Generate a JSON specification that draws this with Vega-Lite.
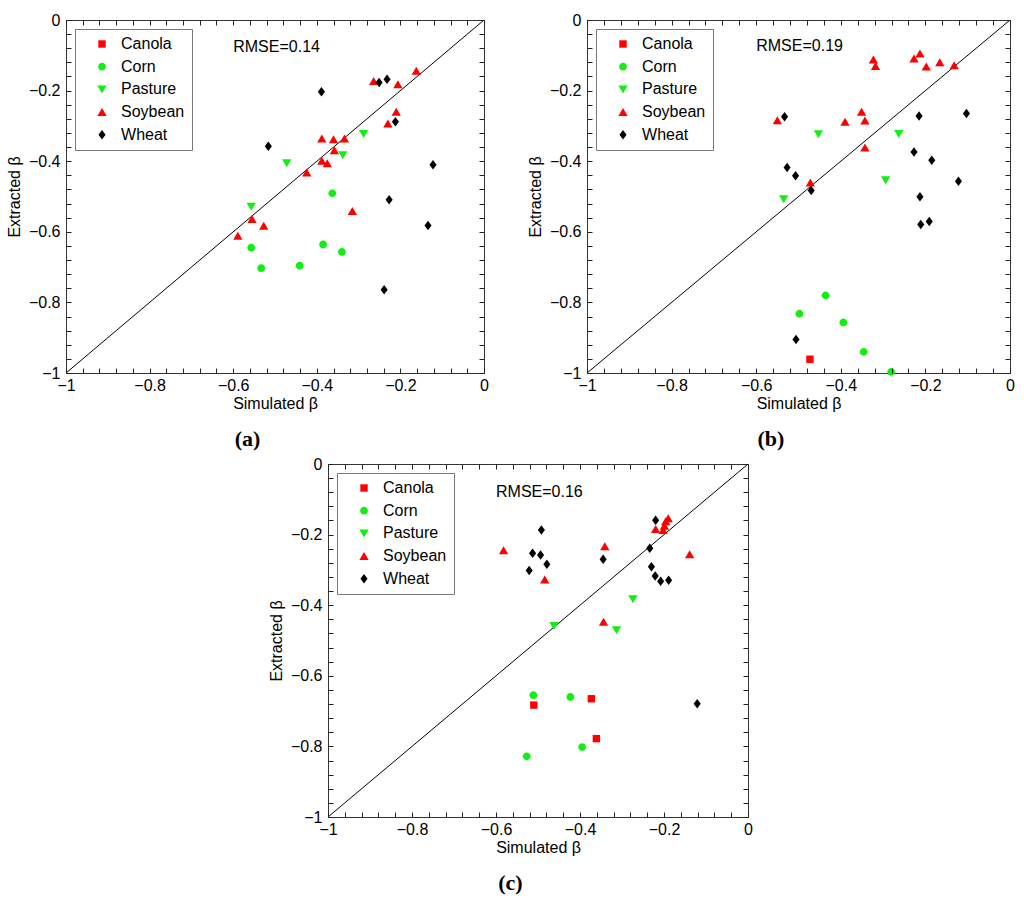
{
  "$schema": "https://vega.github.io/schema/vega-lite/v6.json",
  "padding": {"left": 5, "top": 11, "right": 5, "bottom": 5},
  "background": "white",
  "config": {
    "font": "Liberation Sans",
    "view": {"stroke": "#333", "strokeWidth": 1, "fill": null},
    "axis": {
      "labelFontSize": 16, "titleFontSize": 16, "titleFontWeight": "normal",
      "labelColor": "#000", "titleColor": "#000",
      "domain": false, "grid": false,
      "labelFlush": false, "labelOverlap": false
    },
    "axisX": {"labelPadding": 4, "titlePadding": 2},
    "axisY": {"labelPadding": 6, "titlePadding": 6},
    "legend": {
      "orient": "top-left", "offset": 9, "zindex": 2,
      "strokeColor": "#777", "fillColor": "#fff", "padding": 7,
      "labelFontSize": 16, "labelColor": "#000", "symbolSize": 100,
      "symbolOffset": 12, "labelOffset": 11, "rowPadding": 6.7,
      "symbolStrokeWidth": 0
    },
    "title": {
      "orient": "bottom", "font": "Liberation Serif", "fontSize": 22,
      "fontWeight": "bold", "color": "#000", "anchor": "middle",
      "frame": "bounds", "offset": 18
    }
  },
  "data": {
    "values": [
      {"panel": "a", "crop": "Soybean", "sim": -0.162, "ext": -0.144},
      {"panel": "a", "crop": "Soybean", "sim": -0.264, "ext": -0.173},
      {"panel": "a", "crop": "Soybean", "sim": -0.206, "ext": -0.182},
      {"panel": "a", "crop": "Soybean", "sim": -0.210, "ext": -0.260},
      {"panel": "a", "crop": "Soybean", "sim": -0.230, "ext": -0.293},
      {"panel": "a", "crop": "Soybean", "sim": -0.388, "ext": -0.336},
      {"panel": "a", "crop": "Soybean", "sim": -0.360, "ext": -0.338},
      {"panel": "a", "crop": "Soybean", "sim": -0.334, "ext": -0.336},
      {"panel": "a", "crop": "Soybean", "sim": -0.358, "ext": -0.369},
      {"panel": "a", "crop": "Soybean", "sim": -0.388, "ext": -0.399},
      {"panel": "a", "crop": "Soybean", "sim": -0.375, "ext": -0.406},
      {"panel": "a", "crop": "Soybean", "sim": -0.424, "ext": -0.432},
      {"panel": "a", "crop": "Soybean", "sim": -0.315, "ext": -0.541},
      {"panel": "a", "crop": "Soybean", "sim": -0.555, "ext": -0.564},
      {"panel": "a", "crop": "Soybean", "sim": -0.527, "ext": -0.583},
      {"panel": "a", "crop": "Soybean", "sim": -0.589, "ext": -0.611},
      {"panel": "a", "crop": "Pasture", "sim": -0.288, "ext": -0.323},
      {"panel": "a", "crop": "Pasture", "sim": -0.338, "ext": -0.383},
      {"panel": "a", "crop": "Pasture", "sim": -0.472, "ext": -0.406},
      {"panel": "a", "crop": "Pasture", "sim": -0.557, "ext": -0.529},
      {"panel": "a", "crop": "Corn", "sim": -0.363, "ext": -0.491},
      {"panel": "a", "crop": "Corn", "sim": -0.385, "ext": -0.636},
      {"panel": "a", "crop": "Corn", "sim": -0.340, "ext": -0.657},
      {"panel": "a", "crop": "Corn", "sim": -0.557, "ext": -0.645},
      {"panel": "a", "crop": "Corn", "sim": -0.533, "ext": -0.703},
      {"panel": "a", "crop": "Corn", "sim": -0.441, "ext": -0.696},
      {"panel": "a", "crop": "Wheat", "sim": -0.389, "ext": -0.203},
      {"panel": "a", "crop": "Wheat", "sim": -0.251, "ext": -0.177},
      {"panel": "a", "crop": "Wheat", "sim": -0.232, "ext": -0.168},
      {"panel": "a", "crop": "Wheat", "sim": -0.212, "ext": -0.288},
      {"panel": "a", "crop": "Wheat", "sim": -0.516, "ext": -0.358},
      {"panel": "a", "crop": "Wheat", "sim": -0.122, "ext": -0.410},
      {"panel": "a", "crop": "Wheat", "sim": -0.227, "ext": -0.509},
      {"panel": "a", "crop": "Wheat", "sim": -0.134, "ext": -0.582},
      {"panel": "a", "crop": "Wheat", "sim": -0.239, "ext": -0.764},

      {"panel": "b", "crop": "Soybean", "sim": -0.323, "ext": -0.112},
      {"panel": "b", "crop": "Soybean", "sim": -0.318, "ext": -0.130},
      {"panel": "b", "crop": "Soybean", "sim": -0.213, "ext": -0.095},
      {"panel": "b", "crop": "Soybean", "sim": -0.227, "ext": -0.109},
      {"panel": "b", "crop": "Soybean", "sim": -0.198, "ext": -0.132},
      {"panel": "b", "crop": "Soybean", "sim": -0.166, "ext": -0.120},
      {"panel": "b", "crop": "Soybean", "sim": -0.132, "ext": -0.128},
      {"panel": "b", "crop": "Soybean", "sim": -0.351, "ext": -0.260},
      {"panel": "b", "crop": "Soybean", "sim": -0.343, "ext": -0.285},
      {"panel": "b", "crop": "Soybean", "sim": -0.390, "ext": -0.288},
      {"panel": "b", "crop": "Soybean", "sim": -0.550, "ext": -0.284},
      {"panel": "b", "crop": "Soybean", "sim": -0.343, "ext": -0.361},
      {"panel": "b", "crop": "Soybean", "sim": -0.472, "ext": -0.460},
      {"panel": "b", "crop": "Pasture", "sim": -0.453, "ext": -0.324},
      {"panel": "b", "crop": "Pasture", "sim": -0.263, "ext": -0.323},
      {"panel": "b", "crop": "Pasture", "sim": -0.294, "ext": -0.454},
      {"panel": "b", "crop": "Pasture", "sim": -0.535, "ext": -0.508},
      {"panel": "b", "crop": "Wheat", "sim": -0.533, "ext": -0.274},
      {"panel": "b", "crop": "Wheat", "sim": -0.215, "ext": -0.272},
      {"panel": "b", "crop": "Wheat", "sim": -0.103, "ext": -0.265},
      {"panel": "b", "crop": "Wheat", "sim": -0.227, "ext": -0.374},
      {"panel": "b", "crop": "Wheat", "sim": -0.185, "ext": -0.397},
      {"panel": "b", "crop": "Wheat", "sim": -0.527, "ext": -0.418},
      {"panel": "b", "crop": "Wheat", "sim": -0.507, "ext": -0.441},
      {"panel": "b", "crop": "Wheat", "sim": -0.470, "ext": -0.483},
      {"panel": "b", "crop": "Wheat", "sim": -0.122, "ext": -0.457},
      {"panel": "b", "crop": "Wheat", "sim": -0.213, "ext": -0.501},
      {"panel": "b", "crop": "Wheat", "sim": -0.211, "ext": -0.579},
      {"panel": "b", "crop": "Wheat", "sim": -0.191, "ext": -0.571},
      {"panel": "b", "crop": "Wheat", "sim": -0.506, "ext": -0.905},
      {"panel": "b", "crop": "Corn", "sim": -0.436, "ext": -0.780},
      {"panel": "b", "crop": "Corn", "sim": -0.498, "ext": -0.832},
      {"panel": "b", "crop": "Corn", "sim": -0.394, "ext": -0.857},
      {"panel": "b", "crop": "Corn", "sim": -0.346, "ext": -0.940},
      {"panel": "b", "crop": "Corn", "sim": -0.281, "ext": -0.997},
      {"panel": "b", "crop": "Canola", "sim": -0.473, "ext": -0.961},

      {"panel": "c", "crop": "Soybean", "sim": -0.582, "ext": -0.244},
      {"panel": "c", "crop": "Soybean", "sim": -0.484, "ext": -0.327},
      {"panel": "c", "crop": "Soybean", "sim": -0.341, "ext": -0.233},
      {"panel": "c", "crop": "Soybean", "sim": -0.344, "ext": -0.447},
      {"panel": "c", "crop": "Soybean", "sim": -0.139, "ext": -0.256},
      {"panel": "c", "crop": "Soybean", "sim": -0.220, "ext": -0.184},
      {"panel": "c", "crop": "Soybean", "sim": -0.202, "ext": -0.187},
      {"panel": "c", "crop": "Soybean", "sim": -0.199, "ext": -0.175},
      {"panel": "c", "crop": "Soybean", "sim": -0.196, "ext": -0.162},
      {"panel": "c", "crop": "Soybean", "sim": -0.190, "ext": -0.154},
      {"panel": "c", "crop": "Wheat", "sim": -0.492, "ext": -0.187},
      {"panel": "c", "crop": "Wheat", "sim": -0.513, "ext": -0.253},
      {"panel": "c", "crop": "Wheat", "sim": -0.494, "ext": -0.258},
      {"panel": "c", "crop": "Wheat", "sim": -0.479, "ext": -0.284},
      {"panel": "c", "crop": "Wheat", "sim": -0.521, "ext": -0.302},
      {"panel": "c", "crop": "Wheat", "sim": -0.345, "ext": -0.270},
      {"panel": "c", "crop": "Wheat", "sim": -0.220, "ext": -0.159},
      {"panel": "c", "crop": "Wheat", "sim": -0.234, "ext": -0.239},
      {"panel": "c", "crop": "Wheat", "sim": -0.230, "ext": -0.291},
      {"panel": "c", "crop": "Wheat", "sim": -0.221, "ext": -0.317},
      {"panel": "c", "crop": "Wheat", "sim": -0.208, "ext": -0.332},
      {"panel": "c", "crop": "Wheat", "sim": -0.189, "ext": -0.329},
      {"panel": "c", "crop": "Wheat", "sim": -0.121, "ext": -0.679},
      {"panel": "c", "crop": "Pasture", "sim": -0.274, "ext": -0.383},
      {"panel": "c", "crop": "Pasture", "sim": -0.462, "ext": -0.459},
      {"panel": "c", "crop": "Pasture", "sim": -0.313, "ext": -0.471},
      {"panel": "c", "crop": "Corn", "sim": -0.511, "ext": -0.655},
      {"panel": "c", "crop": "Corn", "sim": -0.423, "ext": -0.660},
      {"panel": "c", "crop": "Corn", "sim": -0.527, "ext": -0.828},
      {"panel": "c", "crop": "Corn", "sim": -0.395, "ext": -0.802},
      {"panel": "c", "crop": "Canola", "sim": -0.373, "ext": -0.665},
      {"panel": "c", "crop": "Canola", "sim": -0.510, "ext": -0.683},
      {"panel": "c", "crop": "Canola", "sim": -0.361, "ext": -0.778}
    ]
  },
  "spacing": 4,
  "center": true,
  "resolve": {
    "scale": {"color": "independent", "shape": "independent"},
    "legend": {"color": "independent", "shape": "independent"}
  },
  "vconcat": [
    {
      "spacing": 37,
      "resolve": {
        "scale": {"color": "independent", "shape": "independent"},
        "legend": {"color": "independent", "shape": "independent"}
      },
      "hconcat": [
        {
          "width": 418, "height": 353,
          "title": {"text": "(a)"},
          "transform": [{"filter": "datum.panel == 'a'"}],
          "resolve": {"axis": {"x": "independent", "y": "independent"}},
          "layer": [
            {
              "data": {"values": [{}]},
              "mark": {"type": "rule", "color": "#000", "strokeWidth": 1},
              "encoding": {
                "x": {"datum": -1, "type": "quantitative", "scale": {"domain": [-1, 0], "nice": false},
                  "axis": {"orient": "top", "labels": false, "title": null, "ticks": true, "tickSize": 5, "offset": -5, "tickColor": "#222", "tickWidth": 1, "zindex": 1, "values": [-1,-0.96,-0.92,-0.88,-0.84,-0.8,-0.76,-0.72,-0.68,-0.64,-0.6,-0.56,-0.52,-0.48,-0.44,-0.4,-0.36,-0.32,-0.28,-0.24,-0.2,-0.16,-0.12,-0.08,-0.04,0]}},
                "y": {"datum": -1, "type": "quantitative", "scale": {"domain": [-1, 0], "nice": false},
                  "axis": {"orient": "right", "labels": false, "title": null, "ticks": true, "tickSize": 5, "offset": -5, "tickColor": "#222", "tickWidth": 1, "zindex": 1, "values": [-1,-0.96,-0.92,-0.88,-0.84,-0.8,-0.76,-0.72,-0.68,-0.64,-0.6,-0.56,-0.52,-0.48,-0.44,-0.4,-0.36,-0.32,-0.28,-0.24,-0.2,-0.16,-0.12,-0.08,-0.04,0]}},
                "x2": {"datum": 0},
                "y2": {"datum": 0}
              }
            },
            {
              "mark": {"type": "point", "filled": true, "opacity": 1, "size": 100},
              "encoding": {
                "x": {"field": "sim", "type": "quantitative", "title": "Simulated β",
                  "axis": {"orient": "bottom", "ticks": true, "tickSize": 5, "offset": -5, "tickColor": "#222", "tickWidth": 1, "zindex": 1, "values": [-1,-0.96,-0.92,-0.88,-0.84,-0.8,-0.76,-0.72,-0.68,-0.64,-0.6,-0.56,-0.52,-0.48,-0.44,-0.4,-0.36,-0.32,-0.28,-0.24,-0.2,-0.16,-0.12,-0.08,-0.04,0],
                    "labelExpr": "abs(datum.value*5 - round(datum.value*5)) < 0.001 ? (datum.value < -0.01 ? '−' + format(-datum.value, '.1~f') : '0') : ''"}},
                "y": {"field": "ext", "type": "quantitative", "title": "Extracted β",
                  "axis": {"orient": "left", "ticks": true, "tickSize": 5, "offset": -5, "tickColor": "#222", "tickWidth": 1, "zindex": 1, "values": [-1,-0.96,-0.92,-0.88,-0.84,-0.8,-0.76,-0.72,-0.68,-0.64,-0.6,-0.56,-0.52,-0.48,-0.44,-0.4,-0.36,-0.32,-0.28,-0.24,-0.2,-0.16,-0.12,-0.08,-0.04,0],
                    "labelExpr": "abs(datum.value*5 - round(datum.value*5)) < 0.001 ? (datum.value < -0.01 ? '−' + format(-datum.value, '.1~f') : '0') : ''"}},
                "color": {"field": "crop", "type": "nominal", "legend": {"title": null},
                  "scale": {"domain": ["Canola", "Corn", "Pasture", "Soybean", "Wheat"], "range": ["#ff0000", "#11ee11", "#11ee11", "#ff0000", "#000000"]}},
                "shape": {"field": "crop", "type": "nominal", "legend": {"title": null},
                  "scale": {"domain": ["Canola", "Corn", "Pasture", "Soybean", "Wheat"], "range": ["M-0.74,-0.74H0.74V0.74H-0.74Z", "M0.78,0A0.78,0.78 0 1,1 -0.78,0A0.78,0.78 0 1,1 0.78,0Z", "M0,0.8L0.93,-0.8L-0.93,-0.8Z", "M0,-0.8L0.93,0.8L-0.93,0.8Z", "M0,-0.95L0.71,0L0,0.95L-0.71,0Z"]}}
              }
            },
            {
              "data": {"values": [{}]},
              "mark": {"type": "text", "align": "left", "baseline": "middle", "fontSize": 16, "color": "#000"},
              "encoding": {
                "x": {"datum": -0.6, "type": "quantitative", "axis": null},
                "y": {"datum": -0.077, "type": "quantitative", "axis": null},
                "text": {"value": "RMSE=0.14"}
              }
            }
          ]
        },
        {
          "width": 423, "height": 353,
          "title": {"text": "(b)"},
          "transform": [{"filter": "datum.panel == 'b'"}],
          "resolve": {"axis": {"x": "independent", "y": "independent"}},
          "layer": [
            {
              "data": {"values": [{}]},
              "mark": {"type": "rule", "color": "#000", "strokeWidth": 1},
              "encoding": {
                "x": {"datum": -1, "type": "quantitative", "scale": {"domain": [-1, 0], "nice": false},
                  "axis": {"orient": "top", "labels": false, "title": null, "ticks": true, "tickSize": 5, "offset": -5, "tickColor": "#222", "tickWidth": 1, "zindex": 1, "values": [-1,-0.96,-0.92,-0.88,-0.84,-0.8,-0.76,-0.72,-0.68,-0.64,-0.6,-0.56,-0.52,-0.48,-0.44,-0.4,-0.36,-0.32,-0.28,-0.24,-0.2,-0.16,-0.12,-0.08,-0.04,0]}},
                "y": {"datum": -1, "type": "quantitative", "scale": {"domain": [-1, 0], "nice": false},
                  "axis": {"orient": "right", "labels": false, "title": null, "ticks": true, "tickSize": 5, "offset": -5, "tickColor": "#222", "tickWidth": 1, "zindex": 1, "values": [-1,-0.96,-0.92,-0.88,-0.84,-0.8,-0.76,-0.72,-0.68,-0.64,-0.6,-0.56,-0.52,-0.48,-0.44,-0.4,-0.36,-0.32,-0.28,-0.24,-0.2,-0.16,-0.12,-0.08,-0.04,0]}},
                "x2": {"datum": 0},
                "y2": {"datum": 0}
              }
            },
            {
              "mark": {"type": "point", "filled": true, "opacity": 1, "size": 100},
              "encoding": {
                "x": {"field": "sim", "type": "quantitative", "title": "Simulated β",
                  "axis": {"orient": "bottom", "ticks": true, "tickSize": 5, "offset": -5, "tickColor": "#222", "tickWidth": 1, "zindex": 1, "values": [-1,-0.96,-0.92,-0.88,-0.84,-0.8,-0.76,-0.72,-0.68,-0.64,-0.6,-0.56,-0.52,-0.48,-0.44,-0.4,-0.36,-0.32,-0.28,-0.24,-0.2,-0.16,-0.12,-0.08,-0.04,0],
                    "labelExpr": "abs(datum.value*5 - round(datum.value*5)) < 0.001 ? (datum.value < -0.01 ? '−' + format(-datum.value, '.1~f') : '0') : ''"}},
                "y": {"field": "ext", "type": "quantitative", "title": "Extracted β",
                  "axis": {"orient": "left", "ticks": true, "tickSize": 5, "offset": -5, "tickColor": "#222", "tickWidth": 1, "zindex": 1, "values": [-1,-0.96,-0.92,-0.88,-0.84,-0.8,-0.76,-0.72,-0.68,-0.64,-0.6,-0.56,-0.52,-0.48,-0.44,-0.4,-0.36,-0.32,-0.28,-0.24,-0.2,-0.16,-0.12,-0.08,-0.04,0],
                    "labelExpr": "abs(datum.value*5 - round(datum.value*5)) < 0.001 ? (datum.value < -0.01 ? '−' + format(-datum.value, '.1~f') : '0') : ''"}},
                "color": {"field": "crop", "type": "nominal", "legend": {"title": null},
                  "scale": {"domain": ["Canola", "Corn", "Pasture", "Soybean", "Wheat"], "range": ["#ff0000", "#11ee11", "#11ee11", "#ff0000", "#000000"]}},
                "shape": {"field": "crop", "type": "nominal", "legend": {"title": null},
                  "scale": {"domain": ["Canola", "Corn", "Pasture", "Soybean", "Wheat"], "range": ["M-0.74,-0.74H0.74V0.74H-0.74Z", "M0.78,0A0.78,0.78 0 1,1 -0.78,0A0.78,0.78 0 1,1 0.78,0Z", "M0,0.8L0.93,-0.8L-0.93,-0.8Z", "M0,-0.8L0.93,0.8L-0.93,0.8Z", "M0,-0.95L0.71,0L0,0.95L-0.71,0Z"]}}
              }
            },
            {
              "data": {"values": [{}]},
              "mark": {"type": "text", "align": "left", "baseline": "middle", "fontSize": 16, "color": "#000"},
              "encoding": {
                "x": {"datum": -0.6, "type": "quantitative", "axis": null},
                "y": {"datum": -0.074, "type": "quantitative", "axis": null},
                "text": {"value": "RMSE=0.19"}
              }
            }
          ]
        }
      ]
    },
    {
      "width": 420, "height": 353,
      "title": {"text": "(c)"},
      "transform": [{"filter": "datum.panel == 'c'"}],
      "resolve": {"axis": {"x": "independent", "y": "independent"}},
      "layer": [
        {
          "data": {"values": [{}]},
          "mark": {"type": "rule", "color": "#000", "strokeWidth": 1},
          "encoding": {
            "x": {"datum": -1, "type": "quantitative", "scale": {"domain": [-1, 0], "nice": false},
              "axis": {"orient": "top", "labels": false, "title": null, "ticks": true, "tickSize": 5, "offset": -5, "tickColor": "#222", "tickWidth": 1, "zindex": 1, "values": [-1,-0.96,-0.92,-0.88,-0.84,-0.8,-0.76,-0.72,-0.68,-0.64,-0.6,-0.56,-0.52,-0.48,-0.44,-0.4,-0.36,-0.32,-0.28,-0.24,-0.2,-0.16,-0.12,-0.08,-0.04,0]}},
            "y": {"datum": -1, "type": "quantitative", "scale": {"domain": [-1, 0], "nice": false},
              "axis": {"orient": "right", "labels": false, "title": null, "ticks": true, "tickSize": 5, "offset": -5, "tickColor": "#222", "tickWidth": 1, "zindex": 1, "values": [-1,-0.96,-0.92,-0.88,-0.84,-0.8,-0.76,-0.72,-0.68,-0.64,-0.6,-0.56,-0.52,-0.48,-0.44,-0.4,-0.36,-0.32,-0.28,-0.24,-0.2,-0.16,-0.12,-0.08,-0.04,0]}},
            "x2": {"datum": 0},
            "y2": {"datum": 0}
          }
        },
        {
          "mark": {"type": "point", "filled": true, "opacity": 1, "size": 100},
          "encoding": {
            "x": {"field": "sim", "type": "quantitative", "title": "Simulated β",
              "axis": {"orient": "bottom", "ticks": true, "tickSize": 5, "offset": -5, "tickColor": "#222", "tickWidth": 1, "zindex": 1, "values": [-1,-0.96,-0.92,-0.88,-0.84,-0.8,-0.76,-0.72,-0.68,-0.64,-0.6,-0.56,-0.52,-0.48,-0.44,-0.4,-0.36,-0.32,-0.28,-0.24,-0.2,-0.16,-0.12,-0.08,-0.04,0],
                "labelExpr": "abs(datum.value*5 - round(datum.value*5)) < 0.001 ? (datum.value < -0.01 ? '−' + format(-datum.value, '.1~f') : '0') : ''"}},
            "y": {"field": "ext", "type": "quantitative", "title": "Extracted β",
              "axis": {"orient": "left", "ticks": true, "tickSize": 5, "offset": -5, "tickColor": "#222", "tickWidth": 1, "zindex": 1, "values": [-1,-0.96,-0.92,-0.88,-0.84,-0.8,-0.76,-0.72,-0.68,-0.64,-0.6,-0.56,-0.52,-0.48,-0.44,-0.4,-0.36,-0.32,-0.28,-0.24,-0.2,-0.16,-0.12,-0.08,-0.04,0],
                "labelExpr": "abs(datum.value*5 - round(datum.value*5)) < 0.001 ? (datum.value < -0.01 ? '−' + format(-datum.value, '.1~f') : '0') : ''"}},
            "color": {"field": "crop", "type": "nominal", "legend": {"title": null},
              "scale": {"domain": ["Canola", "Corn", "Pasture", "Soybean", "Wheat"], "range": ["#ff0000", "#11ee11", "#11ee11", "#ff0000", "#000000"]}},
            "shape": {"field": "crop", "type": "nominal", "legend": {"title": null},
              "scale": {"domain": ["Canola", "Corn", "Pasture", "Soybean", "Wheat"], "range": ["M-0.74,-0.74H0.74V0.74H-0.74Z", "M0.78,0A0.78,0.78 0 1,1 -0.78,0A0.78,0.78 0 1,1 0.78,0Z", "M0,0.8L0.93,-0.8L-0.93,-0.8Z", "M0,-0.8L0.93,0.8L-0.93,0.8Z", "M0,-0.95L0.71,0L0,0.95L-0.71,0Z"]}}
          }
        },
        {
          "data": {"values": [{}]},
          "mark": {"type": "text", "align": "left", "baseline": "middle", "fontSize": 16, "color": "#000"},
          "encoding": {
            "x": {"datum": -0.6, "type": "quantitative", "axis": null},
            "y": {"datum": -0.078, "type": "quantitative", "axis": null},
            "text": {"value": "RMSE=0.16"}
          }
        }
      ]
    }
  ]
}
